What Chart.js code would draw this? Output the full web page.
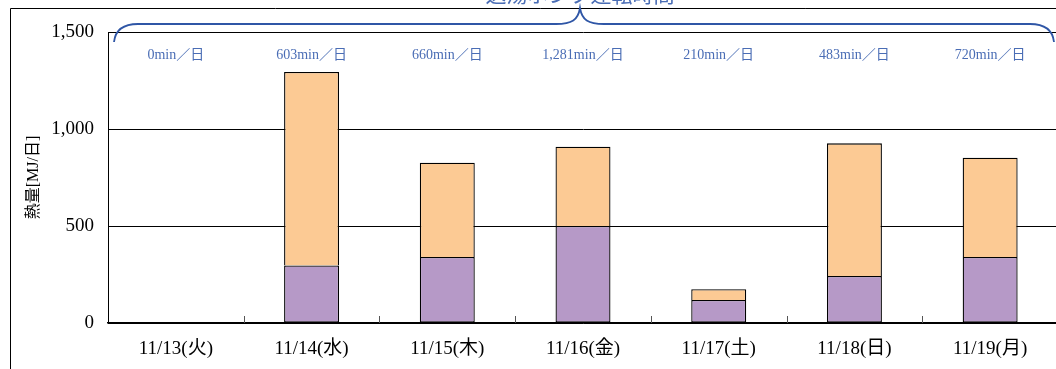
<!DOCTYPE html>
<html>
<head>
<meta charset="utf-8">
<script src="https://cdn.jsdelivr.net/npm/chart.js@4/dist/chart.umd.min.js"></script>
<style>
  html, body { margin: 0; padding: 0; background: #fff; }
  #wrap { width: 1056px; height: 369px; overflow: hidden; position: relative; }
  canvas { display: block; }
</style>
</head>
<body>
<div id="wrap"><canvas id="heatChart" width="1070" height="380" style="width:1070px;height:380px"></canvas></div>
<script>
const days = ["11/13(火)", "11/14(水)", "11/15(木)", "11/16(金)", "11/17(土)", "11/18(日)", "11/19(月)"];
const pumpMinutes = [0, 603, 660, 1281, 210, 483, 720];
const heatLower = [0, 297, 340, 500, 119, 242, 340];
const heatUpper = [0, 997, 486, 409, 55, 684, 512];
const yTicks = [0, 500, 1000, 1500];

const serif = "'Liberation Serif', 'Noto Sans CJK JP', serif";
const blue = "#4a6db5";

// outer frame, brace, pump labels, small x ticks
const decor = {
    id: "decor",
    beforeDraw(chart) {
        let ctx = chart.ctx;
        ctx.save();
        ctx.strokeStyle = "#000";
        ctx.lineWidth = 1;
        ctx.beginPath();
        ctx.moveTo(10.5, chart.height + 5);
        ctx.lineTo(10.5, 8.5);
        ctx.lineTo(chart.width + 5, 8.5);
        ctx.stroke();
        ctx.restore();
    },
    afterDraw(chart) {
        let ctx = chart.ctx;
        let area = chart.chartArea;
        let x = chart.scales.x;
        ctx.save();

        // tick marks between categories
        ctx.strokeStyle = "#555";
        ctx.lineWidth = 1;
        for(let i = 1; i < days.length; i++) {
            let px = Math.round((x.getPixelForValue(i - 1) + x.getPixelForValue(i)) / 2) + 0.5;
            ctx.beginPath();
            ctx.moveTo(px, area.bottom);
            ctx.lineTo(px, area.bottom - 7);
            ctx.stroke();
        }

        // pump run time labels
        ctx.fillStyle = blue;
        ctx.font = "14px " + serif;
        ctx.textAlign = "center";
        ctx.textBaseline = "middle";
        for(let i = 0; i < pumpMinutes.length; i++) {
            let txt = pumpMinutes[i].toLocaleString("en-US") + "min／日";
            ctx.fillText(txt, x.getPixelForValue(i), 55);
        }

        // brace
        let L = area.left + 6;
        let R = area.right - 4;
        let M = (L + R) / 2 - 4;
        ctx.strokeStyle = "#2f56a6";
        ctx.lineWidth = 1.8;
        ctx.beginPath();
        ctx.moveTo(L, 42);
        ctx.quadraticCurveTo(L + 2, 24, L + 24, 24);
        ctx.lineTo(M - 24, 24);
        ctx.bezierCurveTo(M - 8, 24, M - 2, 20, M, 8);
        ctx.bezierCurveTo(M + 2, 20, M + 8, 24, M + 24, 24);
        ctx.lineTo(R - 24, 24);
        ctx.quadraticCurveTo(R - 2, 24, R, 42);
        ctx.stroke();

        ctx.fillStyle = blue;
        ctx.font = "21px " + serif;
        ctx.textBaseline = "middle";
        ctx.fillText("送湯ポンプ運転時間", M, -4);
        ctx.restore();
    }
};

const config = {
    type: "bar",
    data: {
        labels: days,
        datasets: [
            {
                label: "熱量A",
                data: heatLower,
                backgroundColor: "#b699c7",
                borderColor: "#000",
                borderWidth: 1.3,
                borderSkipped: false
            },
            {
                label: "熱量B",
                data: heatUpper,
                backgroundColor: "#fcca94",
                borderColor: "#000",
                borderWidth: 1.3,
                borderSkipped: "start"
            }
        ]
    },
    options: {
        responsive: false,
        animation: false,
        layout: { padding: { left: 0, top: 32, right: 12, bottom: 0 } },
        datasets: { bar: { categoryPercentage: 1, barPercentage: 0.405 } },
        plugins: {
            legend: { display: false },
            tooltip: { enabled: false }
        },
        scales: {
            x: {
                stacked: true,
                grid: { display: false, drawTicks: false },
                border: { display: true, color: "#000", width: 1.5 },
                ticks: { color: "#000", padding: 15, font: { family: serif, size: 19 } },
                afterFit(scale) { scale.height = 57; }
            },
            y: {
                stacked: true,
                min: 0,
                max: 1500,
                afterBuildTicks(scale) { scale.ticks = yTicks.map(v => ({ value: v })); },
                grid: { color: "#000", lineWidth: 1, drawTicks: false },
                border: { display: true, color: "#000", width: 1 },
                ticks: {
                    color: "#000",
                    padding: 14,
                    font: { family: serif, size: 19 },
                    callback: v => v.toLocaleString("en-US")
                },
                title: {
                    display: true,
                    text: "熱量[MJ/日]",
                    color: "#000",
                    padding: { top: 24, bottom: 0 },
                    font: { family: serif, size: 16 }
                },
                afterFit(scale) { scale.width = 108; }
            }
        }
    },
    plugins: [decor]
};

new Chart(document.getElementById("heatChart"), config);
</script>
</body>
</html>
